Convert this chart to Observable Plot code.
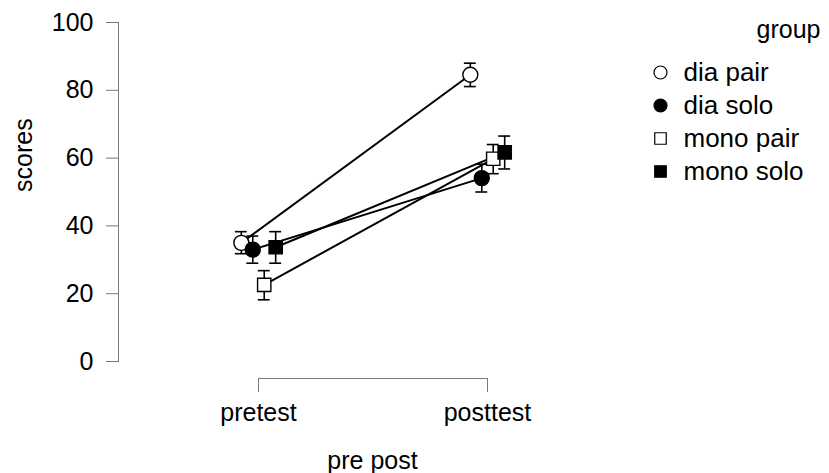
<!DOCTYPE html>
<html>
<head>
<meta charset="utf-8">
<script src="https://cdn.jsdelivr.net/npm/d3@7"></script>
<script src="https://cdn.jsdelivr.net/npm/@observablehq/plot@0.6"></script>
<style>
  html, body { margin: 0; padding: 0; background: #fff; }
  #wrap { position: relative; width: 829px; height: 473px; font-family: "Liberation Sans", Arial, sans-serif; }
  #legend { position: absolute; left: 639px; top: 0px; }
</style>
</head>
<body>
<div id="wrap"><div id="chart"></div><div id="legend"></div></div>
<script>
// ---- data ----
const times = ["pretest", "posttest"];
const groups = ["dia pair", "dia solo", "mono pair", "mono solo"];
const groupFilled = [false, true, false, true];
const groupShape = ["circle", "circle", "square", "square"];
const preMean  = [35.0, 33.0, 22.6, 33.7];
const preLow   = [31.8, 29.0, 18.2, 29.0];
const preHigh  = [38.3, 37.0, 26.8, 38.3];
const postMean = [84.6, 54.1, 59.8, 61.7];
const postLow  = [81.1, 50.0, 55.4, 56.8];
const postHigh = [88.0, 58.2, 64.0, 66.5];
const yTicks = [0, 20, 40, 60, 80, 100];
const dodgeWidth = 0.05;   // dodge width in x units (like position_dodge)
const capHalf = 0.026;     // half error-bar cap width in x units

const means = [preMean, postMean], lows = [preLow, postLow], highs = [preHigh, postHigh];
const rows = times.flatMap((t, ti) => groups.map((g, gi) => ({
  time: t, group: g,
  x: ti + (gi - 1.5) * dodgeWidth,
  mean: means[ti][gi], low: lows[ti][gi], high: highs[ti][gi],
  fill: groupFilled[gi] ? "black" : "white"
})));
const legendRows = groups.map((g, gi) => ({group: g, fill: groupFilled[gi] ? "black" : "white"}));

const font = '"Liberation Sans", Arial, sans-serif';
const axisGray = "#7a7a7a";
const fs = 25;
const lfs = 26;

const chart = Plot.plot({
  width: 829, height: 473,
  marginLeft: 118, marginRight: 0, marginTop: 22, marginBottom: 112,
  style: {fontFamily: font, fontSize: fs + "px", color: "black", background: "white"},
  x: {domain: [0, 1], range: [258, 487]},
  y: {domain: [0, 100], range: [361, 22]},
  symbol: {domain: groups, range: groupShape},
  color: {type: "identity"},
  marks: [
    Plot.frame({anchor: "left", stroke: axisGray}),
    Plot.axisY({ticks: yTicks, tickSize: 12, tickPadding: 13, fontSize: fs, stroke: axisGray, fill: "black", label: null}),
    Plot.ruleY([0], {x1: 0, x2: 1, dy: 17, stroke: axisGray}),
    Plot.axisX({ticks: [0, 1], tickFormat: i => times[i], tickSize: 14, tickPadding: 11, dy: 17, fontSize: fs, stroke: axisGray, fill: "black", label: null}),
    Plot.text(["scores"], {frameAnchor: "left", rotate: -90, dx: -95, fontSize: fs, fill: "black"}),
    Plot.text(["pre post"], {frameAnchor: "bottom", lineAnchor: "middle", dx: -101.5, dy: 99, fontSize: fs, fill: "black"}),
    Plot.line(rows, {x: "x", y: "mean", z: "group", stroke: "black", strokeWidth: 2}),
    Plot.ruleX(rows, {x: "x", y1: "low", y2: "high", stroke: "black", strokeWidth: 1.6}),
    Plot.ruleY(rows, {y: "low", x1: d => d.x - capHalf, x2: d => d.x + capHalf, stroke: "black", strokeWidth: 1.6}),
    Plot.ruleY(rows, {y: "high", x1: d => d.x - capHalf, x2: d => d.x + capHalf, stroke: "black", strokeWidth: 1.6}),
    Plot.dot(rows, {x: "x", y: "mean", symbol: "group", fill: "fill", stroke: "black", strokeWidth: 1.4, r: 7.5})
  ]
});
document.getElementById("chart").appendChild(chart);

const legend = Plot.plot({
  width: 190, height: 200,
  marginLeft: 21, marginRight: 9, marginTop: 0, marginBottom: 0,
  style: {fontFamily: font, fontSize: lfs + "px", color: "black", background: "transparent"},
  y: {type: "point", domain: groups, range: [71.5, 172], padding: 0, axis: null},
  symbol: {domain: groups, range: groupShape},
  color: {type: "identity"},
  marks: [
    Plot.text(["group"], {frameAnchor: "top-right", lineAnchor: "middle", dy: 29, textAnchor: "end", fontSize: fs, fill: "black"}),
    Plot.dot(legendRows, {y: "group", frameAnchor: "left", symbol: "group", fill: "fill", stroke: "black", strokeWidth: 1.2, r: 6.5}),
    Plot.text(legendRows, {y: "group", text: "group", frameAnchor: "left", dx: 23, textAnchor: "start", lineAnchor: "middle", fontSize: lfs, fill: "black"})
  ]
});
document.getElementById("legend").appendChild(legend);
</script>
</body>
</html>
